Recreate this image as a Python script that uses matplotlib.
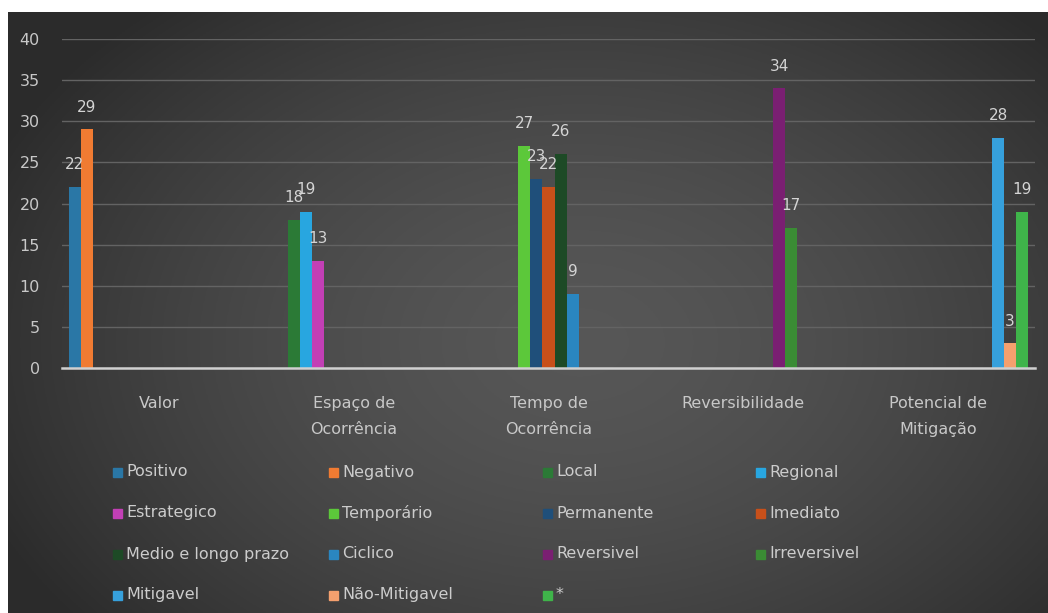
import numpy as np
import matplotlib.pyplot as plt
from matplotlib.patches import Rectangle

# categories and series (one value per category, zero where the series does not apply)
categorias = ['Valor', 'Espaço de\nOcorrência', 'Tempo de\nOcorrência',
              'Reversibilidade', 'Potencial de\nMitigação']
series = ['Positivo', 'Negativo', 'Local', 'Regional',
          'Estrategico', 'Temporário', 'Permanente', 'Imediato',
          'Medio e longo prazo', 'Ciclico', 'Reversivel', 'Irreversivel',
          'Mitigavel', 'Não-Mitigavel', '*']
valores = [
    [22, 0, 0, 0, 0],
    [29, 0, 0, 0, 0],
    [0, 18, 0, 0, 0],
    [0, 19, 0, 0, 0],
    [0, 13, 0, 0, 0],
    [0, 0, 27, 0, 0],
    [0, 0, 23, 0, 0],
    [0, 0, 22, 0, 0],
    [0, 0, 26, 0, 0],
    [0, 0, 9, 0, 0],
    [0, 0, 0, 34, 0],
    [0, 0, 0, 17, 0],
    [0, 0, 0, 0, 28],
    [0, 0, 0, 0, 3],
    [0, 0, 0, 0, 19],
]
cores = ['#2a77a6', '#f07b32', '#2b7a36', '#28a6e0',
         '#c23fb5', '#5cc83a', '#1f4f7a', '#c8501a',
         '#1d4a26', '#2a86c0', '#7a1f72', '#3a8c34',
         '#36a0dc', '#f5a06e', '#3fb44a']

W, H = 1048, 613
fig = plt.figure(figsize=(W / 100, H / 100), dpi=100, facecolor='white')

# dark panel with a radial gradient
bg = fig.add_axes([8 / W, 0, 1 - 8 / W, 1 - 12 / H])
bg.set_axis_off()
gx, gy = np.meshgrid(np.linspace(0, 1, 400), np.linspace(0, 1, 300))
r = np.sqrt(((gx - 0.55) / 0.62) ** 2 + ((gy - 0.55) / 0.75) ** 2)
shade = 0.34 - 0.17 * np.clip(r, 0, 1) ** 1.6
bg.imshow(np.dstack([shade] * 3), aspect='auto', extent=[0, 1, 0, 1], origin='upper')

# plot area
left, right = 62, 1035
y0, y40 = 368, 39
ax = fig.add_axes([left / W, 1 - y0 / H, (right - left) / W, (y0 - y40) / H])
ax.patch.set_alpha(0)

n = len(series)
largura = 0.062
x = np.arange(len(categorias))
txt = '#d4d4d4'
for i, (nome, vals, cor) in enumerate(zip(series, valores, cores)):
    pos = x + (i - (n - 1) / 2) * largura
    bars = ax.bar(pos, vals, width=largura, color=cor, zorder=3)
    for b, v in zip(bars, vals):
        if v:
            ax.annotate(str(v), (b.get_x() + b.get_width() / 2, v),
                        xytext=(0, 16), textcoords='offset points',
                        ha='center', va='center', color=txt, fontsize=11, zorder=4)

ax.set_xlim(-0.5, len(categorias) - 0.5)
ax.set_ylim(0, 40)
ax.set_yticks(range(0, 41, 5))
ax.yaxis.grid(True, color='#636363', linewidth=1)
ax.set_axisbelow(True)
for s in ['top', 'right', 'left']:
    ax.spines[s].set_visible(False)
ax.spines['bottom'].set_color('#d0d0d0')
ax.spines['bottom'].set_linewidth(1.8)
ax.spines['bottom'].set_zorder(5)
ax.tick_params(length=0, colors='#c8c8c8', labelsize=11.5)
ax.tick_params(axis='y', pad=16)
ax.set_xticks(x)
ax.set_xticklabels(categorias, linespacing=1.9, va='top')
ax.tick_params(axis='x', pad=20)

# legend laid out row by row, four columns
col_x = [113, 329, 543, 756]
row_y = [472, 513, 554, 595]
for i, (nome, cor) in enumerate(zip(series, cores)):
    cx, cy = col_x[i % 4], row_y[i // 4]
    fig.patches.append(Rectangle((cx / W, 1 - (cy + 4.5) / H), 9 / W, 9 / H,
                                 transform=fig.transFigure, color=cor))
    fig.text((cx + 13) / W, 1 - cy / H, nome, color='#cccccc', fontsize=11.5,
             ha='left', va='center')

fig.savefig('out.png', dpi=100, facecolor='white')
